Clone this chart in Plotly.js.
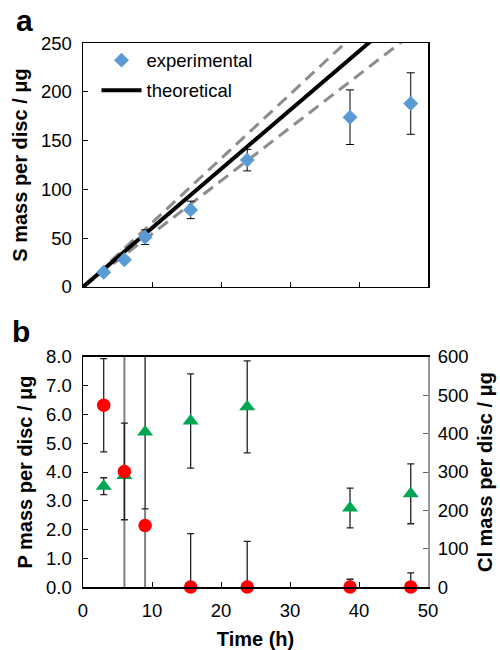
<!DOCTYPE html>
<html>
<head>
<meta charset="utf-8">
<script src="https://cdn.plot.ly/plotly-3.0.1.min.js"></script>
<style>
html,body{margin:0;padding:0;background:#fff;}
#chart{width:500px;height:650px;}
</style>
</head>
<body>
<div id="chart"></div>
<script>
// ---- Panel a: S mass per disc ----
const timeS = [3, 6, 9, 15.6, 23.8, 38.7, 47.5];
const sMass = [15, 28, 51, 79, 130, 174, 188];
const sErr = [3, 3, 7.5, 9, 11, 28, 31.5];
const theoTime = [0, 50];
const theoMass = [0, 302];
const theoUpper = [0, 329];
const theoLower = [0, 272];

// ---- Panel b: P and Cl mass per disc ----
const timeB = [3, 6, 9, 15.6, 23.8, 38.7, 47.5];
const pMass = [6.32, 4.02, 2.14, 0, 0, 0, 0];
const pErr = [1.62, 1.68, 0, 1.86, 1.59, 0.27, 0.49];
const clMass = [263, 291, 404, 433, 470, 206, 243];
const clErr = [22, 0, 200, 123, 120, 52, 78];
// grey vertical bars (large uncertainty) at 6 h and 9 h, in Cl units
const greyTime = [6, 9];
const greyBase = [0, 0];
const greyTop = [700, 204];

const FONT = 'Liberation Sans, Arial, Helvetica, sans-serif';
const FS = 18.5;
const TFS = 20;

const pMinus = pErr.map((e, i) => Math.min(e, pMass[i]));

const traces = [
  {x: theoTime, y: theoUpper, xaxis: 'x', yaxis: 'y', mode: 'lines',
   line: {color: '#8c8c8c', width: 3, dash: '12px,7px'}, showlegend: false, hoverinfo: 'skip'},
  {x: theoTime, y: theoLower, xaxis: 'x', yaxis: 'y', mode: 'lines',
   line: {color: '#8c8c8c', width: 3, dash: '12px,7px'}, showlegend: false, hoverinfo: 'skip'},
  {x: theoTime, y: theoMass, xaxis: 'x', yaxis: 'y', mode: 'lines', name: 'theoretical',
   line: {color: '#000', width: 4}, legendrank: 2, legendgroup: 'b'},
  {x: timeS, y: sMass, xaxis: 'x', yaxis: 'y', mode: 'markers', name: 'experimental',
   marker: {symbol: 'diamond', size: 11.5, color: '#5b9bd5'},
   error_y: {type: 'data', array: sErr, visible: true, color: '#000', thickness: 1, width: 4},
   legendrank: 1, legendgroup: 'a'},
  // bottom panel, Cl (base layer, right axis)
  {x: greyTime, y: greyBase, xaxis: 'x2', yaxis: 'y2', mode: 'markers',
   marker: {size: 1, opacity: 0}, showlegend: false, hoverinfo: 'skip',
   error_y: {type: 'data', array: greyTop, arrayminus: [0, 0], symmetric: false, visible: true,
             color: '#808080', thickness: 2, width: 0}},
  {x: timeB, y: clMass, xaxis: 'x2', yaxis: 'y2', mode: 'markers', name: 'Cl',
   marker: {symbol: 'triangle-up', size: 14, color: '#00a651'}, showlegend: false,
   error_y: {type: 'data', array: clErr, visible: true, color: '#222', thickness: 1.3, width: 3.5}},
  // bottom panel, P (overlay layer, left axis)
  {x: timeB, y: pMass, xaxis: 'x2', yaxis: 'y3', mode: 'markers', name: 'P',
   marker: {symbol: 'circle', size: 13.5, color: '#ff0000'}, showlegend: false, cliponaxis: false,
   error_y: {type: 'data', array: pErr, arrayminus: pMinus, symmetric: false, visible: true,
             color: '#222', thickness: 1.3, width: 3.5}}
];

const axisCommon = {
  showgrid: false, zeroline: false, showline: true, linecolor: '#000', linewidth: 1.5,
  ticks: 'inside', ticklen: 5, tickcolor: '#000', tickwidth: 1,
  tickfont: {family: FONT, size: FS, color: '#000'}
};

const layout = {
  width: 500, height: 650,
  margin: {l: 0, r: 0, t: 0, b: 0},
  paper_bgcolor: '#fff', plot_bgcolor: '#fff',
  font: {family: FONT, size: FS, color: '#000'},
  showlegend: true,
  legend: {x: 0.193, y: 0.936, xanchor: 'left', yanchor: 'top', bgcolor: 'rgba(0,0,0,0)',
           font: {family: FONT, size: FS, color: '#000'}, itemwidth: 40,
           traceorder: 'grouped', tracegroupgap: 3},
  xaxis: Object.assign({}, axisCommon, {domain: [0.166, 0.856], range: [0, 50], anchor: 'y',
          tickvals: [0, 10, 20, 30, 40, 50], showticklabels: false, mirror: true}),
  yaxis: Object.assign({}, axisCommon, {domain: [0.5585, 0.9338], range: [0, 250], anchor: 'x',
          dtick: 50, mirror: true, ticklabelstandoff: 6,
          title: {text: '<b>S mass per disc / μg</b>', font: {family: FONT, size: TFS}, standoff: 8}}),
  xaxis2: Object.assign({}, axisCommon, {domain: [0.166, 0.856], range: [0, 50], anchor: 'y2',
          dtick: 10, mirror: true, ticklabelstandoff: 6,
          title: {text: '<b>Time (h)</b>', font: {family: FONT, size: TFS}, standoff: 12}}),
  yaxis2: Object.assign({}, axisCommon, {domain: [0.0969, 0.4508], range: [0, 600], anchor: 'x2',
          side: 'right', dtick: 100, linecolor: '#999', linewidth: 2, tickcolor: '#666',
          ticklabelstandoff: 4,
          title: {text: '<b>Cl mass per disc / μg</b>', font: {family: FONT, size: TFS}, standoff: 10}}),
  yaxis3: Object.assign({}, axisCommon, {range: [0, 8], anchor: 'x2', overlaying: 'y2',
          side: 'left', dtick: 1, tickformat: '.1f', ticklabelstandoff: 6,
          title: {text: '<b>P mass per disc / μg</b>', font: {family: FONT, size: TFS}, standoff: 8}}),
  annotations: [
    {text: '<b>a</b>', xref: 'paper', yref: 'paper', x: 24 / 500, y: 1 - 21 / 650,
     xanchor: 'center', yanchor: 'middle', showarrow: false, font: {family: FONT, size: 30, color: '#000'}},
    {text: '<b>b</b>', xref: 'paper', yref: 'paper', x: 21 / 500, y: 1 - 331 / 650,
     xanchor: 'center', yanchor: 'middle', showarrow: false, font: {family: FONT, size: 30, color: '#000'}}
  ]
};

Plotly.newPlot('chart', traces, layout, {displayModeBar: false, staticPlot: true});
</script>
</body>
</html>
